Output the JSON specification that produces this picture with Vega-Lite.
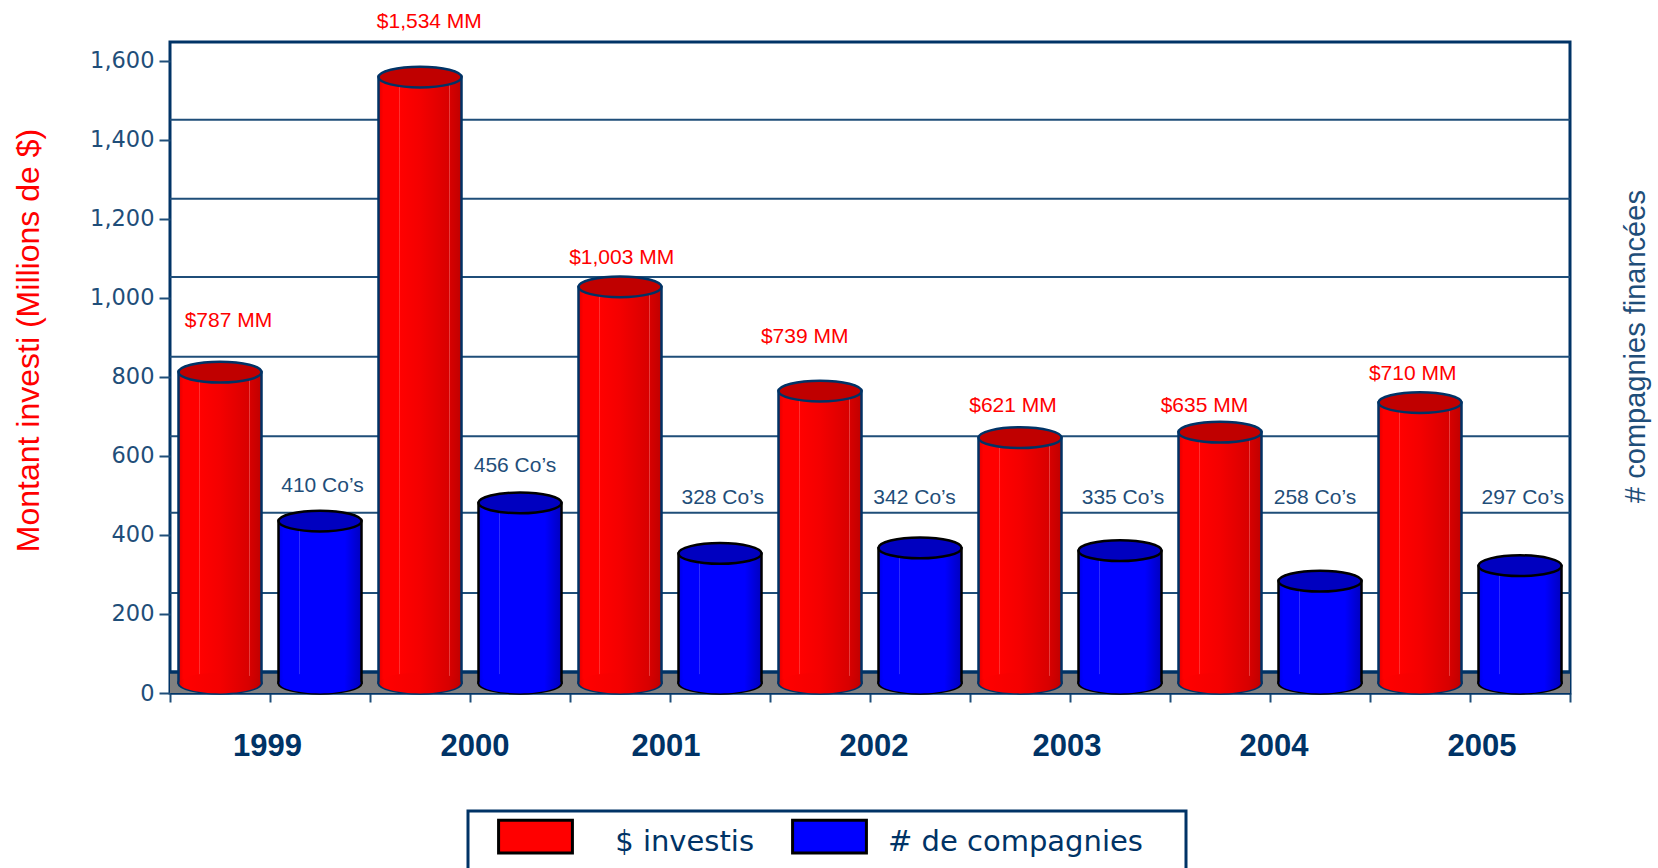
{
"$schema":"https://vega.github.io/schema/vega-lite/v6.json",
"width":1400,"height":651,"autosize":{"type":"none"},"padding":{"left":170,"top":42,"right":88,"bottom":175},
"background":"white",
"view":{"stroke":"#003366","strokeWidth":3,"fill":"white"},
"config":{"font":"Liberation Sans","legend":{"strokeWidth":3}},
"datasets":{
"bars":[
{"year":"1999","series":"$ investis","slot":0.5,"value":787},
{"year":"1999","series":"# de compagnies","slot":1.5,"value":410},
{"year":"2000","series":"$ investis","slot":2.5,"value":1534},
{"year":"2000","series":"# de compagnies","slot":3.5,"value":456},
{"year":"2001","series":"$ investis","slot":4.5,"value":1003},
{"year":"2001","series":"# de compagnies","slot":5.5,"value":328},
{"year":"2002","series":"$ investis","slot":6.5,"value":739},
{"year":"2002","series":"# de compagnies","slot":7.5,"value":342},
{"year":"2003","series":"$ investis","slot":8.5,"value":621},
{"year":"2003","series":"# de compagnies","slot":9.5,"value":335},
{"year":"2004","series":"$ investis","slot":10.5,"value":635},
{"year":"2004","series":"# de compagnies","slot":11.5,"value":258},
{"year":"2005","series":"$ investis","slot":12.5,"value":710},
{"year":"2005","series":"# de compagnies","slot":13.5,"value":297}
],
"grid":[{"level":253},{"level":456},{"level":650},{"level":851},{"level":1053},{"level":1251},{"level":1451}],
"labels":[
{"text":"$787 MM","series":"$","slot":0.584,"level":941},
{"text":"$1,534 MM","series":"$","slot":2.593,"level":1699},
{"text":"$1,003 MM","series":"$","slot":4.517,"level":1101},
{"text":"$739 MM","series":"$","slot":6.347,"level":900},
{"text":"$621 MM","series":"$","slot":8.43,"level":726},
{"text":"$635 MM","series":"$","slot":10.344,"level":726},
{"text":"$710 MM","series":"$","slot":12.427,"level":807},
{"text":"410 Co’s","series":"#","slot":1.525,"level":525},
{"text":"456 Co’s","series":"#","slot":3.45,"level":574},
{"text":"328 Co’s","series":"#","slot":5.527,"level":493},
{"text":"342 Co’s","series":"#","slot":7.446,"level":493},
{"text":"335 Co’s","series":"#","slot":9.53,"level":493},
{"text":"258 Co’s","series":"#","slot":11.45,"level":493},
{"text":"297 Co’s","series":"#","slot":13.527,"level":493}
],
"years":[
{"year":"1999","slot":0.975,"level":-137},
{"year":"2000","slot":3.05,"level":-137},
{"year":"2001","slot":4.96,"level":-137},
{"year":"2002","slot":7.04,"level":-137},
{"year":"2003","slot":8.97,"level":-137},
{"year":"2004","slot":11.04,"level":-137},
{"year":"2005","slot":13.12,"level":-137}
]
},
"resolve":{"axis":{"y":"independent"}},
"layer":[
{"data":{"values":[{"wall":0,"wall2":53}]},
 "mark":{"type":"rect","fill":"#808080"},
 "encoding":{"y":{"field":"wall","type":"quantitative","scale":{"domain":[0,1648],"nice":false},
   "axis":{"orient":"left","values":[0,200,400,600,800,1000,1200,1400,1600],"labelExpr":"format(datum.value, ',')","grid":false,"domain":false,"tickColor":"#1f4e79","tickWidth":2,"tickSize":11,"labelColor":"#1f4e79","labelFont":"DejaVu Sans","labelFontSize":22.5,"labelPadding":5,"title":"Montant investi (Millions de $)","titleColor":"#ff0000","titleFont":"Liberation Sans","titleFontSize":32,"titleFontWeight":"normal","titleX":-142,"titleY":298,"titleAngle":270,"titleAlign":"center","titleBaseline":"middle"}},
  "y2":{"field":"wall2"}}},
{"data":{"name":"grid_line_base","values":[{"level":53}]},
 "mark":{"type":"rule","stroke":"#003366","strokeWidth":3.5},
 "encoding":{"y":{"field":"level","type":"quantitative","axis":null}}},
{"data":{"name":"grid"},
 "mark":{"type":"rule","stroke":"#1f4e79","strokeWidth":2},
 "encoding":{"y":{"field":"level","type":"quantitative",
   "axis":{"orient":"right","values":[],"domain":false,"ticks":false,"labels":false,"grid":false,"title":"# compagnies financées","titleColor":"#1f4e79","titleFont":"Liberation Sans","titleFontSize":29,"titleFontWeight":"normal","titleX":65,"titleY":304,"titleAngle":270,"titleAlign":"center","titleBaseline":"middle"}}}},
{"data":{"name":"bars"},"transform":[{"filter":"datum.series === '$ investis'"}],
 "mark":{"type":"point","shape":"M-1,0 C-1,-0.138 -0.552,-0.25 0,-0.25 C0.552,-0.25 1,-0.138 1,0 C1,0.138 0.552,0.25 0,0.25 C-0.552,0.25 -1,0.138 -1,0 Z","size":6889,"filled":true,"opacity":1,"fill":"#808080","stroke":"#003366","strokeWidth":2.5,"yOffset":-10},
 "encoding":{"x":{"field":"slot","type":"quantitative","scale":{"domain":[0,14],"nice":false,"padding":0},
   "axis":{"values":[0,1,2,3,4,5,6,7,8,9,10,11,12,13,14],"labels":false,"title":null,"grid":false,"domainColor":"#003366","domainWidth":2,"tickColor":"#1f4e79","tickWidth":2,"tickSize":9}},
  "y":{"datum":0,"type":"quantitative","axis":null}}},
{"data":{"name":"bars"},"transform":[{"filter":"datum.series === '# de compagnies'"}],
 "mark":{"type":"point","shape":"M-1,0 C-1,-0.138 -0.552,-0.25 0,-0.25 C0.552,-0.25 1,-0.138 1,0 C1,0.138 0.552,0.25 0,0.25 C-0.552,0.25 -1,0.138 -1,0 Z","size":6889,"filled":true,"opacity":1,"fill":"#808080","stroke":"#000000","strokeWidth":2.5,"yOffset":-10},
 "encoding":{"x":{"field":"slot","type":"quantitative"},"y":{"datum":0,"type":"quantitative","axis":null}}},
{"data":{"name":"bars"},
 "mark":{"type":"bar","size":83,"yOffset":-10,"y2Offset":-10},
 "encoding":{"x":{"field":"slot","type":"quantitative"},
  "y":{"field":"value","type":"quantitative","axis":null},"y2":{"datum":0},
  "color":{"field":"series","type":"nominal","scale":{"domain":["$ investis","# de compagnies"],"range":["#ff0000","#0000ff"]},
   "legend":{"orient":"none","legendX":298,"legendY":769,"direction":"horizontal","columns":2,"title":null,"padding":12,"strokeColor":"#003366","fillColor":"white","symbolType":"M-1.42,-1.17 H1.42 V0.09 H-1.42 Z","symbolSize":2704,"symbolOpacity":1,"symbolStrokeColor":"#000000","symbolStrokeWidth":3,"symbolOffset":28,"labelFont":"DejaVu Sans","labelFontSize":29,"labelColor":"#003366","labelBaseline":"alphabetic","labelOffset":31,"columnPadding":20,"labelLimit":600,"labelExpr":"datum.label === '$ investis' ? '\u2800' + datum.label : datum.label + ' \u2800'"}}}},
{"data":{"name":"bars"},"transform":[{"filter":"datum.series === '$ investis'"}],
 "mark":{"type":"bar","size":83,"yOffset":-10,"y2Offset":-10,"stroke":"#003366","strokeWidth":2.5,
  "fill":{"gradient":"linear","x1":0,"y1":0,"x2":1,"y2":0,"stops":[{"offset":0,"color":"#e00000"},{"offset":0.06,"color":"#ff0000"},{"offset":0.25,"color":"#ff0000"},{"offset":0.255,"color":"#ff5050"},{"offset":0.265,"color":"#ff0000"},{"offset":0.5,"color":"#f40000"},{"offset":0.85,"color":"#d80000"},{"offset":0.855,"color":"#e84040"},{"offset":0.865,"color":"#d60000"},{"offset":1,"color":"#c00000"}]}},
 "encoding":{"x":{"field":"slot","type":"quantitative"},"y":{"field":"value","type":"quantitative","axis":null},"y2":{"datum":0}}},
{"data":{"name":"bars"},"transform":[{"filter":"datum.series === '# de compagnies'"}],
 "mark":{"type":"bar","size":83,"yOffset":-10,"y2Offset":-10,"stroke":"#000000","strokeWidth":2.5,
  "fill":{"gradient":"linear","x1":0,"y1":0,"x2":1,"y2":0,"stops":[{"offset":0,"color":"#0000e0"},{"offset":0.06,"color":"#0000ff"},{"offset":0.25,"color":"#0000ff"},{"offset":0.255,"color":"#4a4aff"},{"offset":0.265,"color":"#0000ff"},{"offset":0.8,"color":"#0000ff"},{"offset":0.92,"color":"#0000d8"},{"offset":1,"color":"#0000c0"}]}},
 "encoding":{"x":{"field":"slot","type":"quantitative"},"y":{"field":"value","type":"quantitative","axis":null},"y2":{"datum":0}}},
{"data":{"name":"bars"},"transform":[{"filter":"datum.series === '$ investis'"}],
 "mark":{"type":"point","shape":"M-0.98,0 C-0.98,-0.138 -0.552,-0.25 0,-0.25 C0.552,-0.25 0.98,-0.138 0.98,0 C0.98,0.138 0.552,0.25 0,0.25 C-0.552,0.25 -0.98,0.138 -0.98,0 Z","size":6889,"filled":true,"opacity":1,"strokeWidth":0,"yOffset":-10,
  "fill":{"gradient":"linear","x1":0,"y1":0,"x2":1,"y2":0,"stops":[{"offset":0,"color":"#e00000"},{"offset":0.06,"color":"#ff0000"},{"offset":0.5,"color":"#f40000"},{"offset":0.85,"color":"#d80000"},{"offset":1,"color":"#c00000"}]}},
 "encoding":{"x":{"field":"slot","type":"quantitative"},"y":{"datum":0,"type":"quantitative","axis":null}}},
{"data":{"name":"bars"},"transform":[{"filter":"datum.series === '# de compagnies'"}],
 "mark":{"type":"point","shape":"M-0.98,0 C-0.98,-0.138 -0.552,-0.25 0,-0.25 C0.552,-0.25 0.98,-0.138 0.98,0 C0.98,0.138 0.552,0.25 0,0.25 C-0.552,0.25 -0.98,0.138 -0.98,0 Z","size":6889,"filled":true,"opacity":1,"strokeWidth":0,"yOffset":-10,
  "fill":{"gradient":"linear","x1":0,"y1":0,"x2":1,"y2":0,"stops":[{"offset":0,"color":"#0000e0"},{"offset":0.06,"color":"#0000ff"},{"offset":0.8,"color":"#0000ff"},{"offset":0.92,"color":"#0000d8"},{"offset":1,"color":"#0000c0"}]}},
 "encoding":{"x":{"field":"slot","type":"quantitative"},"y":{"datum":0,"type":"quantitative","axis":null}}},
{"data":{"name":"bars"},"transform":[{"filter":"datum.series === '$ investis'"}],
 "mark":{"type":"point","shape":"M-1,0 C-1,-0.138 -0.552,-0.25 0,-0.25 C0.552,-0.25 1,-0.138 1,0 C1,0.138 0.552,0.25 0,0.25 C-0.552,0.25 -1,0.138 -1,0 Z","size":6889,"filled":true,"opacity":1,"fill":"#c00000","stroke":"#003366","strokeWidth":2.5,"yOffset":-10},
 "encoding":{"x":{"field":"slot","type":"quantitative"},"y":{"field":"value","type":"quantitative","axis":null}}},
{"data":{"name":"bars"},"transform":[{"filter":"datum.series === '# de compagnies'"}],
 "mark":{"type":"point","shape":"M-1,0 C-1,-0.138 -0.552,-0.25 0,-0.25 C0.552,-0.25 1,-0.138 1,0 C1,0.138 0.552,0.25 0,0.25 C-0.552,0.25 -1,0.138 -1,0 Z","size":6889,"filled":true,"opacity":1,"fill":"#0000c0","stroke":"#000000","strokeWidth":2.5,"yOffset":-10},
 "encoding":{"x":{"field":"slot","type":"quantitative"},"y":{"field":"value","type":"quantitative","axis":null}}},
{"data":{"name":"labels"},"transform":[{"filter":"datum.series === '$'"}],
 "mark":{"type":"text","color":"#ff0000","fontSize":21,"font":"Liberation Sans","clip":false},
 "encoding":{"x":{"field":"slot","type":"quantitative"},"y":{"field":"level","type":"quantitative","axis":null},"text":{"field":"text"}}},
{"data":{"name":"labels"},"transform":[{"filter":"datum.series === '#'"}],
 "mark":{"type":"text","color":"#1f4e79","fontSize":21,"font":"Liberation Sans","clip":false},
 "encoding":{"x":{"field":"slot","type":"quantitative"},"y":{"field":"level","type":"quantitative","axis":null},"text":{"field":"text"}}},
{"data":{"name":"years"},
 "mark":{"type":"text","color":"#003366","fontSize":31,"fontWeight":"bold","font":"Liberation Sans","clip":false},
 "encoding":{"x":{"field":"slot","type":"quantitative"},"y":{"field":"level","type":"quantitative","axis":null},"text":{"field":"year"}}}
]
}
